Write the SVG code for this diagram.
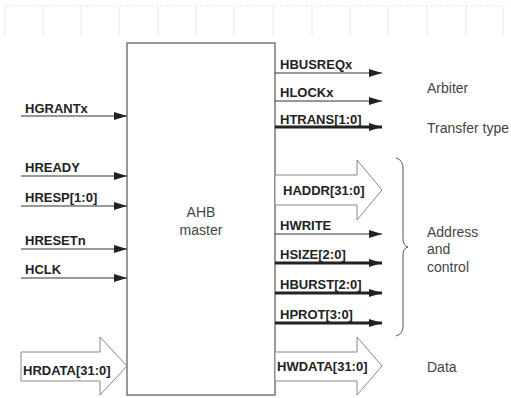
<svg xmlns="http://www.w3.org/2000/svg" width="511" height="398" viewBox="0 0 511 398">
<style>
.sig{font-family:"Liberation Sans",Arial,sans-serif;font-weight:bold;font-size:13px;fill:#222}
.lbl{font-family:"Liberation Sans",Arial,sans-serif;font-size:14px;fill:#444}
.w{stroke:#333;stroke-width:1.2;fill:none}
.t{stroke:#222;stroke-width:3;fill:none}
.fat{fill:#fff;stroke:#888;stroke-width:1}
.grid{stroke:#e4e8f4;stroke-width:1;fill:none}
</style>
<defs>
<marker id="ah" markerUnits="userSpaceOnUse" markerWidth="14" markerHeight="10" viewBox="0 0 14 10" refX="13" refY="5" orient="auto">
<path d="M0,1 L13,5 L0,9 Z" fill="#222"/>
</marker>
</defs>
<rect width="511" height="398" fill="#fff"/>
<g id="grid" class="grid">
<line x1="5" y1="6" x2="506" y2="6" stroke-dasharray="3 2"/>
<path d="M5,6V36M43,6V36M81,6V36M119,6V36M158,6V36M196,6V36M234,6V36M273,6V36M312,6V36M350,6V36M388,6V36M427,6V36M466,6V36M503,6V36"/>
</g>
<g id="master">
<rect x="127" y="43" width="148" height="352" fill="#fff" stroke="#777" stroke-width="1.5"/>
<text class="lbl" x="201" y="217" text-anchor="middle" fill="#333">AHB</text>
<text class="lbl" x="201" y="235" text-anchor="middle" fill="#333">master</text>
</g>
<g id="connectors">
<line class="w" x1="21" y1="116" x2="127" y2="116" marker-end="url(#ah)" stroke-width="1.5"/>
<line class="w" x1="21" y1="176" x2="127" y2="176" marker-end="url(#ah)" stroke-width="1.8"/>
<line class="w" x1="21" y1="206" x2="127" y2="206" marker-end="url(#ah)"/>
<line class="w" x1="21" y1="249" x2="127" y2="249" marker-end="url(#ah)"/>
<line class="w" x1="21" y1="278" x2="127" y2="278" marker-end="url(#ah)" stroke-width="1.5"/>
<path class="fat" d="M21,352H100V337L127,366L100,395V381H21Z"/>
<line class="w" x1="275" y1="73" x2="382" y2="73" marker-end="url(#ah)" stroke-width="1.5"/>
<line class="w" x1="275" y1="101" x2="382" y2="101" marker-end="url(#ah)"/>
<line class="t" x1="275" y1="127" x2="382" y2="127" marker-end="url(#ah)"/>
<path class="fat" d="M275,175H357V160L382,190L357,220V205H275Z"/>
<line class="w" x1="275" y1="234" x2="382" y2="234" marker-end="url(#ah)"/>
<line class="t" x1="275" y1="263" x2="382" y2="263" marker-end="url(#ah)"/>
<line class="t" x1="275" y1="293" x2="382" y2="293" marker-end="url(#ah)"/>
<line class="t" x1="275" y1="323" x2="382" y2="323" marker-end="url(#ah)"/>
<path class="fat" d="M275,352H357V337L382,366L357,395V381H275Z"/>
<path d="M396,158 Q403,160 403,168 L403,238 Q403,246 408,247 Q403,248 403,256 L403,326 Q403,334 396,336" fill="none" stroke="#555" stroke-width="1"/>
</g>
<g id="left-labels">
<text class="sig" x="25" y="113">HGRANTx</text>
<text class="sig" x="25" y="172">HREADY</text>
<text class="sig" x="25" y="202">HRESP[1:0]</text>
<text class="sig" x="25" y="245">HRESETn</text>
<text class="sig" x="25" y="274">HCLK</text>
<text class="sig" x="23" y="375">HRDATA[31:0]</text>
</g>
<g id="right-labels">
<text class="sig" x="280" y="69">HBUSREQx</text>
<text class="sig" x="280" y="97">HLOCKx</text>
<text class="sig" x="280" y="124">HTRANS[1:0]</text>
<text class="sig" x="283" y="195">HADDR[31:0]</text>
<text class="sig" x="280" y="230">HWRITE</text>
<text class="sig" x="280" y="259">HSIZE[2:0]</text>
<text class="sig" x="280" y="289">HBURST[2:0]</text>
<text class="sig" x="280" y="319">HPROT[3:0]</text>
<text class="sig" x="277" y="371">HWDATA[31:0]</text>
</g>
<g id="groups">
<text class="lbl" x="427" y="93">Arbiter</text>
<text class="lbl" x="427" y="133">Transfer type</text>
<text class="lbl" x="427" y="237">Address</text>
<text class="lbl" x="427" y="254">and</text>
<text class="lbl" x="427" y="272">control</text>
<text class="lbl" x="427" y="372">Data</text>
</g>
</svg>
